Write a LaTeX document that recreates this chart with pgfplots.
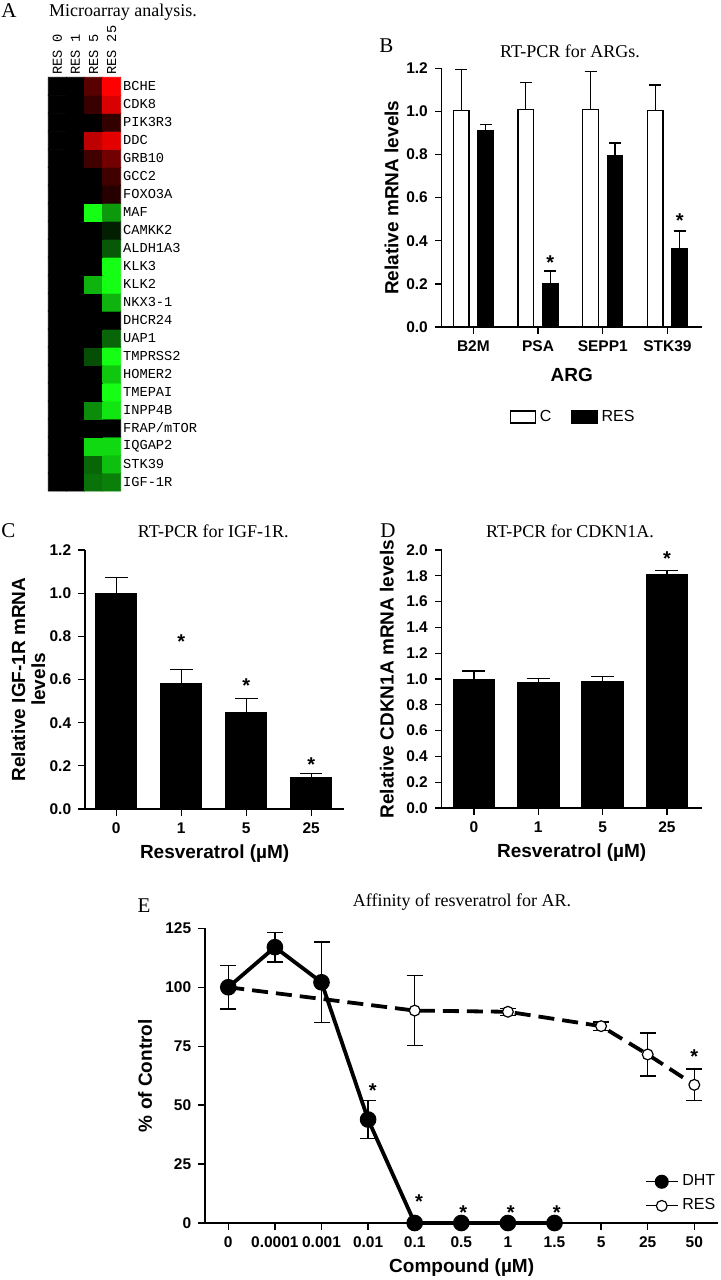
\documentclass[border=0pt]{standalone}
\usepackage{pgfplots}
\pgfplotsset{compat=1.18}
\usepackage{fontspec}
\setmainfont{Liberation Serif}
\newfontfamily\arial{Liberation Sans}
\newfontfamily\gmono{Liberation Mono}
\newcommand{\tickfont}{\arial\bfseries\fontsize{7.75pt}{9pt}\selectfont}
\newcommand{\labfont}{\arial\bfseries\fontsize{9.5pt}{10pt}\selectfont}
\newcommand{\legfont}{\arial\fontsize{8pt}{9.5pt}\selectfont}
\newcommand{\titfont}{\fontsize{9pt}{11pt}\selectfont}
\newcommand{\letfont}{\fontsize{10.5pt}{12pt}\selectfont}
\newcommand{\genefont}{\gmono\fontsize{6.85pt}{8pt}\selectfont}
\newcommand{\astfont}{\arial\bfseries\fontsize{10pt}{11pt}\selectfont}

\pgfplotsset{
  gp/.style={
    scale only axis, axis lines=left, axis line style={-, line width=0.65pt},
    tick align=outside, major tick length=3.4pt, tick style={line width=0.65pt, black},
    ticklabel style={font=\tickfont},
    /pgf/number format/assume math mode=true,
    clip=false,
  },
  onedec/.style={y tick label style={/pgf/number format/fixed, /pgf/number format/fixed zerofill, /pgf/number format/precision=1}},
}
\tikzset{ast/.style={anchor=base, yshift=-5.6pt, font=\astfont, inner sep=0pt}}

\begin{document}
\begin{tikzpicture}
\path[use as bounding box] (0,0) rectangle (360pt,-640pt);

% ---------- titles and panel letters ----------
\node[anchor=base, font=\letfont] at (4.5pt,-8.5pt) {A};
\node[anchor=base, font=\titfont] at (61.5pt,-8pt) {Microarray analysis.};
\node[anchor=base, font=\letfont] at (193.15pt,-26pt) {B};
\node[anchor=base, font=\titfont] at (285pt,-28.85pt) {RT-PCR for ARGs.};
\node[anchor=base, font=\letfont] at (4.15pt,-268.5pt) {C};
\node[anchor=base, font=\titfont] at (106.65pt,-268.85pt) {RT-PCR for IGF-1R.};
\node[anchor=base, font=\letfont] at (194pt,-268.5pt) {D};
\node[anchor=base, font=\titfont] at (285pt,-268.85pt) {RT-PCR for CDKN1A.};
\node[anchor=base, font=\letfont] at (72pt,-456pt) {E};
\node[anchor=base, font=\titfont] at (231pt,-453pt) {Affinity of resveratrol for AR.};

% ---------- A: heatmap ----------
\begin{axis}[at={(24.15pt,-245.5pt)}, anchor=south west, scale only axis,
  width=36.2pt, height=206.85pt,
  xmin=-0.5, xmax=3.5, ymin=-0.5, ymax=22.5,
  axis line style={draw=none}, major tick length=0pt, tick style={draw=none},
  xtick={0,1,2,3}, xticklabels={RES 0,RES 1,RES 5,RES 25},
  xticklabel pos=upper,
  x tick label style={rotate=90, anchor=west, font=\genefont, inner sep=1pt},
  ytick={0,...,22},
  yticklabels={IGF-1R,STK39,IQGAP2,FRAP/mTOR,INPP4B,TMEPAI,HOMER2,TMPRSS2,UAP1,DHCR24,NKX3-1,KLK2,KLK3,ALDH1A3,CAMKK2,MAF,FOXO3A,GCC2,GRB10,DDC,PIK3R3,CDK8,BCHE},
  yticklabel pos=right,
  y tick label style={anchor=west, font=\genefont, inner sep=1pt},
  colormap={rg}{rgb255=(20,255,20) rgb255=(0,0,0) rgb255=(255,0,0)},
  point meta min=-1, point meta max=1, clip=false]
\addplot[matrix plot*, mesh/cols=4, point meta=explicit] table[meta=c] {
x y c
0 0 0
1 0 0
2 0 -0.45
3 0 -0.5
0 1 0
1 1 0
2 1 -0.4
3 1 -0.75
0 2 0
1 2 0
2 2 -0.85
3 2 -0.85
0 3 0
1 3 0
2 3 0
3 3 0
0 4 0
1 4 0
2 4 -0.55
3 4 -0.9
0 5 0
1 5 0
2 5 0
3 5 -1
0 6 0
1 6 0
2 6 0
3 6 -0.78
0 7 0
1 7 0
2 7 -0.3
3 7 -1
0 8 0
1 8 0
2 8 0
3 8 -0.4
0 9 0
1 9 0
2 9 0
3 9 0
0 10 0
1 10 0
2 10 0
3 10 -0.7
0 11 0
1 11 0
2 11 -0.7
3 11 -1
0 12 0
1 12 0
2 12 0
3 12 -1
0 13 0
1 13 0
2 13 0
3 13 -0.35
0 14 0
1 14 0
2 14 0
3 14 -0.12
0 15 0
1 15 0
2 15 -1
3 15 -0.6
0 16 0
1 16 0
2 16 0
3 16 0.15
0 17 0
1 17 0
2 17 0
3 17 0.25
0 18 0
1 18 0
2 18 0.25
3 18 0.45
0 19 0
1 19 0
2 19 0.75
3 19 0.9
0 20 0
1 20 0
2 20 0
3 20 0.2
0 21 0
1 21 0
2 21 0.22
3 21 0.85
0 22 0
1 22 0
2 22 0.35
3 22 1
};
\end{axis}

% ---------- B ----------
\begin{axis}[gp, onedec, at={(220.85pt,-163.5pt)}, anchor=south west,
  width=130pt, height=129.35pt,
  xmin=-0.49, xmax=3.53, ymin=0, ymax=1.2,
  ytick={0,0.2,0.4,0.6,0.8,1.0,1.2},
  xtick={0,1,2,3}, xticklabels={B2M,PSA,SEPP1,STK39},
  xlabel={ARG}, ylabel={Relative mRNA levels},
  every axis y label/.style={at={(axis description cs:-0.1923,0.5)}, rotate=90, anchor=center, font=\labfont},
  every axis x label/.style={at={(axis description cs:0.5,-0.1855)}, anchor=center, font=\labfont},
  legend style={at={(0.509,-0.348)}, anchor=center, draw=none, fill=none,
    legend columns=2, font=\legfont, /tikz/every even column/.append style={column sep=8pt}},
  legend image code/.code={\draw[#1,/tikz/.cd,line width=0.65pt] (0pt,-3pt) rectangle (12.5pt,3pt);},
]
\addplot[ybar, bar width=7.75pt, bar shift=0pt, fill=white, draw=black, line width=0.65pt,
  error bars/.cd, y dir=plus, y explicit, error bar style={line width=0.65pt, black},
  error mark options={rotate=90, line width=0.65pt, black, mark size=3pt}]
  coordinates {(-0.189,1.005) +- (0,0.188) (0.811,1.008) +- (0,0.127) (1.811,1.01) +- (0,0.176) (2.811,1.005) +- (0,0.118)};
\addlegendentry{C}
\addplot[ybar, bar width=7.75pt, bar shift=0pt, fill=black, draw=black, line width=0.65pt,
  error bars/.cd, y dir=plus, y explicit, error bar style={line width=0.65pt, black},
  error mark options={rotate=90, line width=0.65pt, black, mark size=3pt}]
  coordinates {(0.189,0.911) +- (0,0.027) (1.189,0.203) +- (0,0.057) (2.189,0.794) +- (0,0.059) (3.189,0.362) +- (0,0.083)};
\addlegendentry{RES}
\node[ast] at (axis cs:1.19,0.32) {*};
\node[ast] at (axis cs:3.19,0.515) {*};
\end{axis}

% ---------- C ----------
\begin{axis}[gp, onedec, at={(42.5pt,-404.5pt)}, anchor=south west,
  width=129.65pt, height=129.5pt,
  xmin=-0.48, xmax=3.51, ymin=0, ymax=1.2,
  ytick={0,0.2,0.4,0.6,0.8,1.0,1.2},
  xtick={0,1,2,3}, xticklabels={0,1,5,25},
  xlabel={Resveratrol (µM)}, ylabel={Relative IGF-1R mRNA\\levels},
  every axis y label/.style={at={(axis description cs:-0.2187,0.5)}, rotate=90, anchor=center, align=center, font=\labfont},
  every axis x label/.style={at={(axis description cs:0.5,-0.171)}, anchor=center, font=\labfont},
]
\addplot[ybar, bar width=20.35pt, bar shift=0pt, fill=black, draw=black,
  error bars/.cd, y dir=plus, y explicit, error bar style={line width=0.65pt, black},
  error mark options={rotate=90, line width=0.65pt, black, mark size=5.67pt}]
  coordinates {(0,0.997) +- (0,0.076) (1,0.583) +- (0,0.062) (2,0.448) +- (0,0.063) (3,0.146) +- (0,0.017)};
\node[ast] at (axis cs:1,0.795) {*};
\node[ast] at (axis cs:2,0.59) {*};
\node[ast] at (axis cs:3,0.226) {*};
\end{axis}

% ---------- D ----------
\begin{axis}[gp, onedec, at={(220.85pt,-404pt)}, anchor=south west,
  width=130pt, height=129pt,
  xmin=-0.5, xmax=3.54, ymin=0, ymax=2.0,
  ytick={0,0.2,0.4,0.6,0.8,1.0,1.2,1.4,1.6,1.8,2.0},
  xtick={0,1,2,3}, xticklabels={0,1,5,25},
  xlabel={Resveratrol (µM)}, ylabel={Relative CDKN1A mRNA levels},
  every axis y label/.style={at={(axis description cs:-0.2115,0.5)}, rotate=90, anchor=center, font=\labfont},
  every axis x label/.style={at={(axis description cs:0.5,-0.172)}, anchor=center, font=\labfont},
]
\addplot[ybar, bar width=20.85pt, bar shift=0pt, fill=black, draw=black,
  error bars/.cd, y dir=plus, y explicit, error bar style={line width=0.65pt, black},
  error mark options={rotate=90, line width=0.65pt, black, mark size=5.75pt}]
  coordinates {(0,0.997) +- (0,0.065) (1,0.972) +- (0,0.031) (2,0.98) +- (0,0.038) (3,1.808) +- (0,0.035)};
\node[ast] at (axis cs:3,1.966) {*};
\end{axis}

% ---------- E ----------
\begin{axis}[gp, at={(102.5pt,-611.5pt)}, anchor=south west,
  width=256.65pt, height=147.35pt,
  xmin=-0.5, xmax=10.515, ymin=0, ymax=125,
  ytick={0,25,50,75,100,125},
  xtick={0,1,2,3,4,5,6,7,8,9,10},
  xticklabels={0,0.0001,0.001,0.01,0.1,0.5,1,1.5,5,25,50},
  xlabel={Compound (µM)}, ylabel={\% of Control},
  every axis y label/.style={at={(axis description cs:-0.1169,0.5)}, rotate=90, anchor=center, font=\labfont},
  every axis x label/.style={at={(axis description cs:0.5,-0.1527)}, anchor=center, font=\labfont},
  legend style={at={(0.845,0.099)}, anchor=west, draw=none, fill=none, font=\legfont, row sep=1pt},
  legend image code/.code={\draw[mark repeat=2,mark phase=2,#1,solid,line width=0.6pt] plot coordinates {(0pt,0pt) (8pt,0pt) (16pt,0pt)};},
  reverse legend,
]
\addplot[black, line width=1.9pt, dash pattern=on 8pt off 4pt,
  mark=*, mark size=2.7pt, mark options={solid, fill=white, draw=black, line width=0.6pt},
  error bars/.cd, y dir=both, y explicit, error bar style={line width=0.65pt, black, solid},
  error mark options={rotate=90, line width=0.65pt, black, mark size=4pt, solid}]
  table[x=x, y=y, y error=e] {
x y e
0 100 0
4 90.1 14.8
6 89.6 1.5
8 83.5 1.8
9 71.5 9.1
10 58.6 6.7
};
\addlegendentry{RES}
\addplot[black, line width=1.9pt, solid,
  mark=*, mark size=3.2pt, mark options={solid, fill=black, draw=black},
  error bars/.cd, y dir=both, y explicit, error bar style={line width=0.65pt, black, solid},
  error mark options={rotate=90, line width=0.65pt, black, mark size=4pt, solid}]
  table[x=x, y=y, y error=e] {
x y e
0 100 9.2
1 117 6.3
2 102.1 17.1
3 43.9 8.15
4 0 0
5 0 0
6 0 0
7 0 0
};
\addlegendentry{DHT}
\node[ast] at (axis cs:3.1,58.1) {*};
\node[ast] at (axis cs:4.09,10.7) {*};
\node[ast] at (axis cs:5.04,6.2) {*};
\node[ast] at (axis cs:6.06,6.2) {*};
\node[ast] at (axis cs:7.05,6.2) {*};
\node[ast] at (axis cs:10,72.2) {*};
\end{axis}
\end{tikzpicture}
\end{document}
